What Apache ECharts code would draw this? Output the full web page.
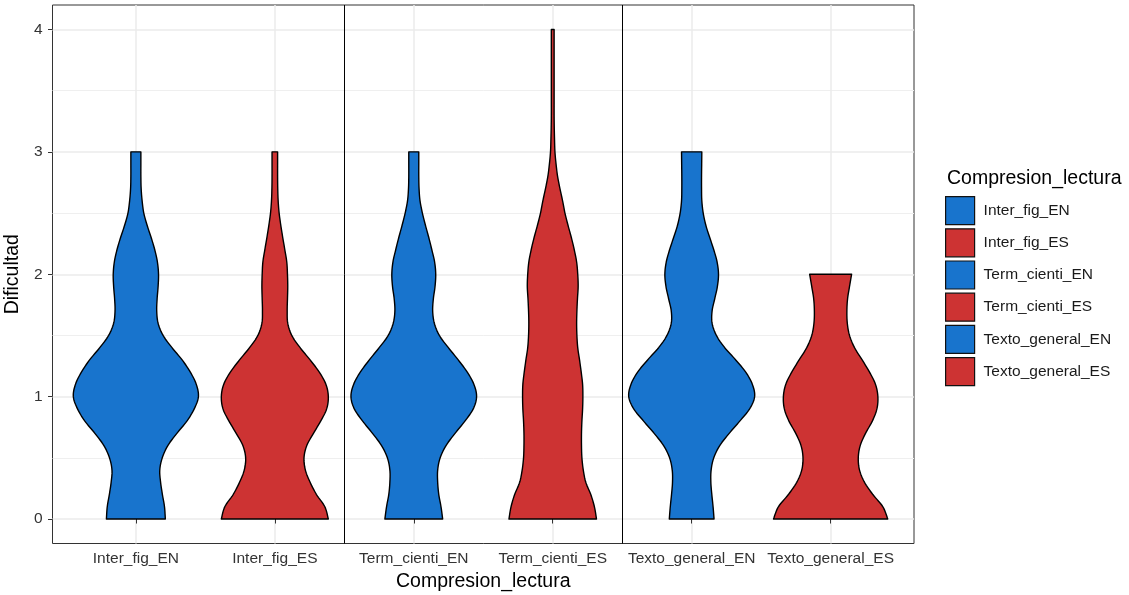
<!DOCTYPE html>
<html>
<head>
<meta charset="utf-8">
<script src="https://cdn.jsdelivr.net/npm/echarts@6/dist/echarts.min.js"></script>
<style>html,body{margin:0;padding:0;background:#fff;}#chart{width:1129px;height:595px;}</style>
</head>
<body>
<div id="chart"></div>
<script>
// ---- data ----
const categories = ['Inter_fig_EN', 'Inter_fig_ES', 'Term_cienti_EN', 'Term_cienti_ES', 'Texto_general_EN', 'Texto_general_ES'];
// y levels of the violin outlines (Dificultad)
const levels = [0, 0.1, 0.2, 0.3, 0.4, 0.5, 0.6, 0.7, 0.8, 0.9,
                1.0, 1.1, 1.2, 1.3, 1.4, 1.5, 1.6, 1.7, 1.8, 1.9,
                2.0, 2.1, 2.2, 2.3, 2.4, 2.5, 2.6, 2.7, 2.8, 2.9,
                3.0, 3.1, 3.2, 3.3, 3.4, 3.5, 3.6, 3.7, 3.8, 3.9, 4.0];
// violin half-widths (in category units) at each level
const widthInterFigEN = [0.212, 0.206, 0.191, 0.178, 0.172, 0.19, 0.23, 0.295, 0.367, 0.42,
                         0.45, 0.435, 0.392, 0.333, 0.26, 0.196, 0.16, 0.15, 0.153, 0.16,
                         0.163, 0.155, 0.136, 0.11, 0.081, 0.057, 0.045, 0.038, 0.036, 0.036, 0.036];
const widthInterFigES = [0.385, 0.36, 0.30, 0.254, 0.22, 0.21, 0.23, 0.278, 0.33, 0.373,
                         0.385, 0.368, 0.32, 0.254, 0.182, 0.122, 0.093, 0.089, 0.091, 0.093,
                         0.091, 0.086, 0.072, 0.057, 0.043, 0.031, 0.024, 0.021, 0.02, 0.02, 0.02];
const widthTermCientiEN = [0.208, 0.196, 0.18, 0.172, 0.172, 0.19, 0.232, 0.297, 0.368, 0.428,
                           0.452, 0.433, 0.385, 0.32, 0.249, 0.184, 0.148, 0.136, 0.141, 0.153,
                           0.158, 0.15, 0.13, 0.108, 0.084, 0.062, 0.045, 0.038, 0.036, 0.036, 0.036];
const widthTermCientiES = [0.315, 0.30, 0.274, 0.238, 0.22, 0.21, 0.207, 0.207, 0.21, 0.215,
                           0.217, 0.215, 0.205, 0.193, 0.18, 0.174, 0.172, 0.174, 0.178, 0.183,
                           0.18, 0.172, 0.155, 0.134, 0.11, 0.088, 0.071, 0.052, 0.035, 0.024,
                           0.016, 0.013, 0.011, 0.01, 0.01, 0.01, 0.01, 0.01, 0.01, 0.01, 0.01];
const widthTextoGeneralEN = [0.161, 0.154, 0.145, 0.138, 0.14, 0.159, 0.202, 0.27, 0.346, 0.417,
                             0.453, 0.437, 0.389, 0.317, 0.238, 0.178, 0.147, 0.147, 0.166, 0.185,
                             0.193, 0.183, 0.159, 0.13, 0.102, 0.083, 0.073, 0.071, 0.071, 0.072, 0.073];
const widthTextoGeneralES = [0.411, 0.376, 0.304, 0.244, 0.208, 0.199, 0.213, 0.251, 0.3, 0.333,
                             0.34, 0.323, 0.28, 0.227, 0.172, 0.136, 0.12, 0.117, 0.122, 0.136, 0.151];
const yTicks = [0, 1, 2, 3, 4];
const yMinorTicks = [0.5, 1.5, 2.5, 3.5];
const xTicks = [1, 2, 3, 4, 5, 6];
const separators = [2.5, 4.5];

// ---- styling ----
const widths = [widthInterFigEN, widthInterFigES, widthTermCientiEN, widthTermCientiES, widthTextoGeneralEN, widthTextoGeneralES];
const BLUE = '#1874CD', RED = '#CD3333';
const fills = [BLUE, RED, BLUE, RED, BLUE, RED];
const FONT = '"Liberation Sans", Arial, Helvetica, sans-serif';

function spline(pts, seg) {
  const out = [];
  const n = pts.length;
  for (let i = 0; i < n - 1; i++) {
    const p0 = pts[Math.max(i - 1, 0)], p1 = pts[i], p2 = pts[i + 1], p3 = pts[Math.min(i + 2, n - 1)];
    for (let s = 0; s < seg; s++) {
      const t = s / seg, t2 = t * t, t3 = t2 * t;
      const f = (a, b, c, d) => 0.5 * ((2 * b) + (-a + c) * t + (2 * a - 5 * b + 4 * c - d) * t2 + (-a + 3 * b - 3 * c + d) * t3);
      out.push([f(p0[0], p1[0], p2[0], p3[0]), f(p0[1], p1[1], p2[1], p3[1])]);
    }
  }
  out.push(pts[n - 1]);
  return out;
}

function makeRender(k) {
  return function (params, api) {
    const hw = widths[k];
    const xc = k + 1;
    const right = hw.map((w, j) => api.coord([xc + w, levels[j]]));
    const left = hw.map((w, j) => api.coord([xc - w, levels[j]]));
    const pts = spline(right, 8).concat(spline(left, 8).reverse());
    return {
      type: 'polygon',
      shape: { points: pts },
      style: { fill: fills[k], stroke: '#000', lineWidth: 1.4, lineJoin: 'round' }
    };
  };
}

const series = categories.map((name, k) => ({
  type: 'custom',
  name: name,
  coordinateSystem: 'cartesian2d',
  xAxisIndex: 0,
  yAxisIndex: 0,
  itemStyle: { color: fills[k], borderColor: '#111', borderWidth: 1 },
  data: [[k + 1, 0]],
  renderItem: makeRender(k),
  z: 3
}));
series[0].markLine = {
  silent: true,
  symbol: ['none', 'none'],
  label: { show: false },
  lineStyle: { color: '#000', width: 1, type: 'solid' },
  emphasis: { disabled: true },
  data: separators.map(v => ({ xAxis: v }))
};

const chart = echarts.init(document.getElementById('chart'), null, { renderer: 'canvas' });
chart.setOption({
  animation: false,
  backgroundColor: '#fff',
  textStyle: { fontFamily: FONT },
  title: {
    text: 'Compresion_lectura',
    left: 942, top: 164, padding: 5,
    textStyle: { fontSize: 19.5, fontWeight: 'normal', color: '#000', fontFamily: FONT }
  },
  legend: {
    orient: 'vertical',
    left: 945, top: 196, padding: 0,
    icon: 'rect',
    itemWidth: 29, itemHeight: 28, itemGap: 3,
    selectedMode: false,
    data: categories,
    itemStyle: { borderColor: '#111', borderWidth: 1.2 },
    textStyle: { fontSize: 15.5, color: '#1a1a1a', fontFamily: FONT, padding: [0, 0, 0, 4] }
  },
  grid: {
    left: 52.5, right: 215, top: 5, bottom: 51.5,
    show: true, borderColor: '#333', borderWidth: 1, backgroundColor: '#fff',
    outerBoundsMode: 'none'
  },
  xAxis: {
    type: 'value', min: 0.4, max: 6.6,
    name: 'Compresion_lectura', nameLocation: 'middle', nameGap: 27,
    nameTextStyle: { fontSize: 19.5, color: '#000', fontFamily: FONT },
    axisLine: { show: false },
    axisTick: { show: true, length: 4.5, customValues: xTicks, lineStyle: { color: '#333', width: 1 } },
    axisLabel: { customValues: xTicks, margin: 7, fontSize: 15.5, color: '#333', fontFamily: FONT,
                 formatter: v => categories[Math.round(v) - 1] },
    splitLine: { show: true, lineStyle: { color: '#EBEBEB', width: 1.5 } }
  },
  yAxis: [{
    type: 'value', min: -0.2, max: 4.2,
    name: 'Dificultad', nameLocation: 'middle', nameGap: 25,
    nameTextStyle: { fontSize: 19.5, color: '#000', fontFamily: FONT },
    axisLine: { show: false },
    axisTick: { show: true, length: 4.5, customValues: yTicks, lineStyle: { color: '#333', width: 1 } },
    axisLabel: { customValues: yTicks, margin: 10, fontSize: 15.5, color: '#333', fontFamily: FONT },
    splitLine: { show: true, lineStyle: { color: '#EBEBEB', width: 1.5 } }
  }, {
    type: 'value', min: -0.2, max: 4.2, position: 'left',
    axisLine: { show: false },
    axisTick: { show: false, customValues: yMinorTicks },
    axisLabel: { show: false, customValues: yMinorTicks },
    splitLine: { show: true, lineStyle: { color: '#EFEFEF', width: 1 } }
  }],
  series: series
});
</script>
</body>
</html>
